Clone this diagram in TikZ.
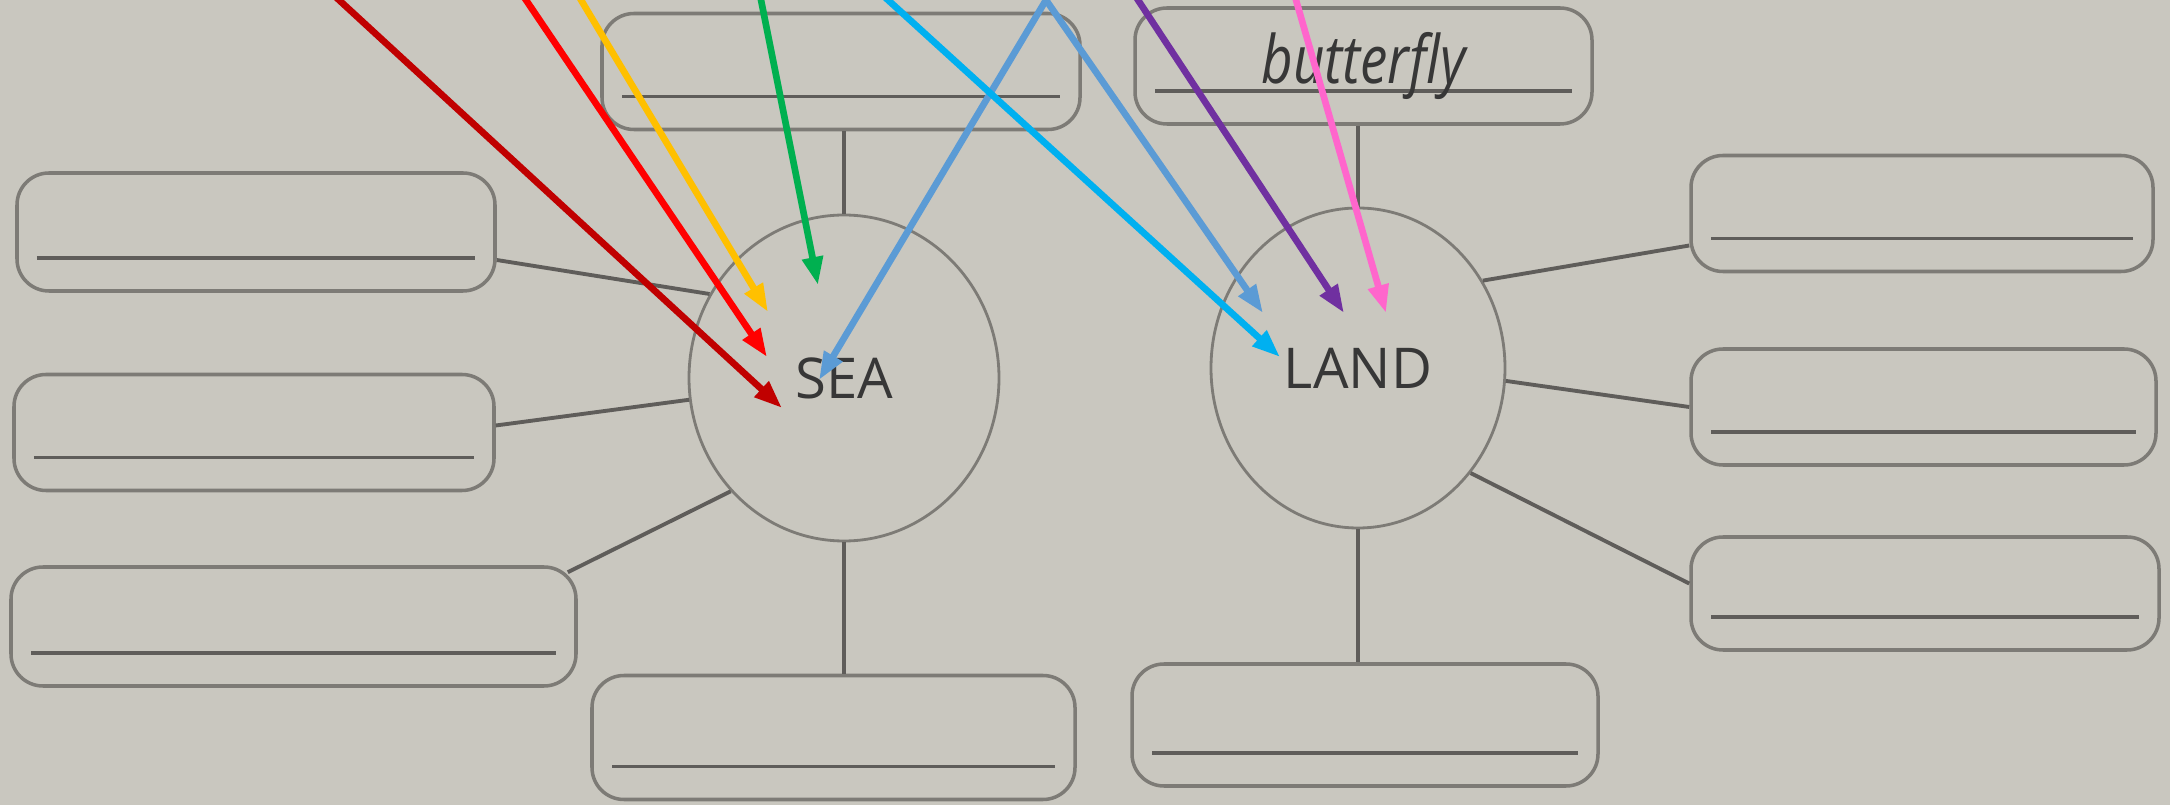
\documentclass[tikz,border=0pt]{standalone}
\usepackage{fontspec}
\usetikzlibrary{arrows.meta,shapes.geometric}
\newfontfamily\wordfont{Open Sans}
\newfontfamily\handfont[FakeStretch=0.82]{Open Sans}
\definecolor{paper}{RGB}{201,199,191}
\definecolor{boxgray}{RGB}{125,123,118}
\definecolor{linegray}{RGB}{95,93,90}
\definecolor{inkgray}{RGB}{55,55,55}
\definecolor{darkred}{HTML}{C00000}
\definecolor{brightred}{HTML}{FF0000}
\definecolor{gold}{HTML}{FFC000}
\definecolor{leaf}{HTML}{00B050}
\definecolor{sky}{HTML}{00B0F0}
\definecolor{steel}{HTML}{5B9BD5}
\definecolor{violet}{HTML}{7030A0}
\definecolor{rose}{HTML}{FF66CC}
\begin{document}
\begin{tikzpicture}[>={Triangle[length=2.8mm,width=2mm]}]
      \tikzstyle{every node} = [align=center]
      \tikzstyle{wbox} = [draw=boxgray, line width=1pt, rounded corners=3.2mm, minimum height=1.16cm,
        path picture={\draw[linegray,line width=1pt] ([xshift=2mm,yshift=3.3mm]path picture bounding box.south west) -- ([xshift=-2mm,yshift=3.3mm]path picture bounding box.south east);}]
      \tikzstyle{bubble} = [draw=boxgray, line width=0.8pt, ellipse, inner sep=0pt, text=inkgray, font=\wordfont\fontsize{16}{18}\selectfont]
      \tikzstyle{link} = [linegray, line width=1.1pt]
      \tikzstyle{arr} = [line width=1.9pt, ->, shorten <=-2mm]

      \fill[paper] (0,0) rectangle (21.7,8.05);
      \useasboundingbox (0,0) rectangle (21.7,8.05);

      % sea
      \node[bubble, minimum width=3.1cm, minimum height=3.26cm] (sea) at (8.44,4.27) {SEA};
      \node[wbox, minimum width=4.78cm] (seatop) at (8.41,7.335) {};
      \node[wbox, minimum width=4.78cm, minimum height=1.18cm] (left1) at (2.56,5.73) {};
      \node[wbox, minimum width=4.80cm] (left2) at (2.54,3.725) {};
      \node[wbox, minimum width=5.65cm, minimum height=1.19cm] (left3) at (2.935,1.785) {};
      \node[wbox, minimum width=4.83cm, minimum height=1.24cm] (seabot) at (8.335,0.675) {};

      \draw[link] (sea.north |- seatop.south) -- (sea.north);
      \draw[link] ([yshift=-2.8mm]left1.east) -- (sea.148);
      \draw[link] ([yshift=0.7mm]left2.east) -- (sea.188);
      \draw[link] ([xshift=-1mm,yshift=-0.7mm]left3.north east) -- (sea.225);
      \draw[link] (sea.south) -- (sea.south |- seabot.north);

      % land
      \node[bubble, minimum width=2.94cm, minimum height=3.2cm] (land) at (13.58,4.37) {LAND};
      \node[wbox, minimum width=4.57cm, font=\handfont\itshape\fontsize{19}{21}\selectfont, text=inkgray] (fly) at (13.635,7.39) {butterfly};
      \node[wbox, minimum width=4.62cm] (right1) at (19.22,5.915) {};
      \node[wbox, minimum width=4.65cm] (right2) at (19.235,3.98) {};
      \node[wbox, minimum width=4.68cm, minimum height=1.13cm] (right3) at (19.25,2.115) {};
      \node[wbox, minimum width=4.66cm, minimum height=1.22cm] (landbot) at (13.65,0.8) {};

      \draw[link] (land.north |- fly.south) -- (land.north);
      \draw[link] (land.35) -- ([yshift=-3.2mm]right1.west);
      \draw[link] (land.355) -- (right2.west);
      \draw[link] (land.317) -- ([yshift=1mm]right3.west);
      \draw[link] (land.south) -- (land.south |- landbot.north);

      % arrows from the top edge
      \coordinate (from1) at (3.39,8.05);
      \coordinate (from2) at (5.26,8.05);
      \coordinate (from3) at (5.81,8.05);
      \coordinate (from4) at (7.61,8.05);
      \coordinate (from5) at (8.88,8.05);
      \coordinate (from6) at (10.46,8.05);
      \coordinate (from7) at (11.38,8.05);
      \coordinate (from8) at (12.96,8.05);

      \coordinate (to1) at (7.82,3.97);
      \coordinate (to2) at (7.67,4.48);
      \coordinate (to3) at (7.68,4.93);
      \coordinate (to4) at (8.18,5.20);
      \coordinate (to5) at (8.19,4.25);
      \coordinate (to6) at (12.80,4.48);
      \coordinate (to7) at (12.63,4.92);
      \coordinate (to8) at (13.44,4.92);
      \coordinate (to9) at (13.86,4.92);

      \draw[arr,darkred] (from1) -- (to1);
      \draw[arr,brightred] (from2) -- (to2);
      \draw[arr,gold] (from3) -- (to3);
      \draw[arr,leaf] (from4) -- (to4);
      \draw[arr,steel] (from6) -- (to5);
      \draw[arr,sky] (from5) -- (to6);
      \draw[arr,steel] (from6) -- (to7);
      \draw[arr,violet] (from7) -- (to8);
      \draw[arr,rose] (from8) -- (to9);
    \end{tikzpicture}
\end{document}
